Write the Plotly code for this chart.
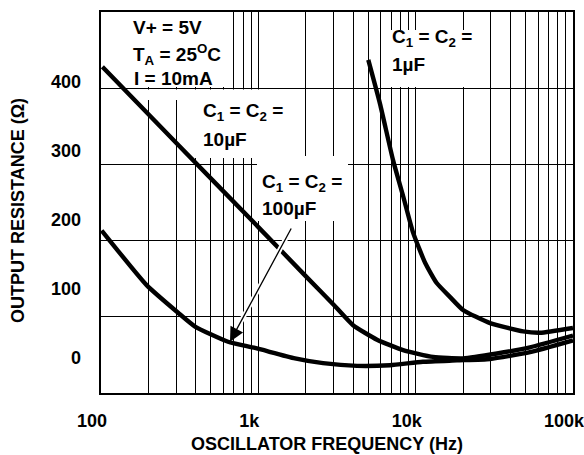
import plotly.graph_objects as go

# ---- data ----
freq_10uF = [102, 300, 1000, 2000, 3000, 4000, 5680, 8320, 12900, 20000, 32900, 53300, 100000]
res_10uF = [421, 311, 189, 118, 77, 47, 26, 11, 1, -1, 6, 15, 32]

freq_100uF = [101, 195, 309, 396, 642, 953, 1710, 2580, 4240, 6870, 11100, 18300, 29700, 53300, 100000]
res_100uF = [184, 105, 65, 45, 23, 14, -1, -8, -12, -11, -6, -4, -2, 8, 25]

freq_1uF = [5000, 5940, 7180, 8320, 9630, 11500, 13600, 16500, 20000, 29700, 48200, 61800, 100000]
res_1uF = [431, 367, 286, 234, 181, 137, 108, 88, 69, 50, 38, 36, 43]

x_tick_vals = [100, 1000, 10000, 100000]
x_tick_text = ["100", "1k", "10k", "100k"]
y_tick_vals = [0, 100, 200, 300, 400]
y_tick_text = ["0", "100", "200", "300", "400"]

FONT = "Liberation Sans, Arial, Helvetica, sans-serif"
GRID = "#000000"
GRID_W = 1.4
Y_RANGE = [-51.2, 500.4]
X_LOG_RANGE = [2, 5]

minor_vals = [m * 10 ** e for e in range(2, 5) for m in range(2, 10)]

fig = go.Figure()
line_style = dict(color="black", width=4.4, shape="spline", smoothing=0.5)
fig.add_trace(go.Scatter(x=freq_10uF, y=res_10uF, mode="lines", line=line_style,
                         hoverinfo="skip"))
fig.add_trace(go.Scatter(x=freq_100uF, y=res_100uF, mode="lines", line=line_style,
                         hoverinfo="skip"))
fig.add_trace(go.Scatter(x=freq_1uF, y=res_1uF, mode="lines", line=line_style,
                         yaxis="y2", hoverinfo="skip"))

fig.update_layout(
    width=584, height=455,
    margin=dict(l=101, r=11, t=12, b=62, autoexpand=False),
    plot_bgcolor="white", paper_bgcolor="white",
    showlegend=False,
    font=dict(family=FONT, size=18, color="black"),
    xaxis=dict(
        type="log", range=X_LOG_RANGE, automargin=False,
        tickmode="array", tickvals=x_tick_vals, ticktext=x_tick_text,
        tickfont=dict(family=FONT, size=18, color="black", weight="bold"),
        ticklabelshift=-9, ticklabelstandoff=10, ticklabeloverflow="allow",
        showgrid=True, gridcolor=GRID, gridwidth=GRID_W,
        minor=dict(tickmode="array", tickvals=minor_vals, showgrid=True,
                   gridcolor=GRID, gridwidth=GRID_W, ticks=""),
        showline=True, linecolor="black", linewidth=2, mirror=True,
        ticks="", zeroline=False,
    ),
    yaxis=dict(
        range=Y_RANGE, tickmode="linear", tick0=Y_RANGE[0], automargin=False,
        dtick=(Y_RANGE[1] - Y_RANGE[0]) / 5,
        showticklabels=False, showgrid=True, gridcolor=GRID, gridwidth=GRID_W,
        showline=True, linecolor="black", linewidth=2, mirror=True,
        ticks="", zeroline=False,
    ),
    yaxis2=dict(
        overlaying="y", side="left", range=Y_RANGE, automargin=False,
        tickmode="array", tickvals=y_tick_vals, ticktext=y_tick_text,
        tickfont=dict(family=FONT, size=18, color="black", weight="bold"),
        ticklabelstandoff=19,
        showgrid=False, showline=False, zeroline=False, ticks="",
    ),
)

# pixel helpers -> axis coordinates
def xl(px):
    return X_LOG_RANGE[0] + (px - 101) / 472.0 * (X_LOG_RANGE[1] - X_LOG_RANGE[0])

def xhz(px):
    return 10 ** xl(px)

def yv(py):
    return Y_RANGE[0] + (393 - py) / 381.0 * (Y_RANGE[1] - Y_RANGE[0])

def xd(px):
    return (px - 101) / 472.0

def yd(py):
    return (393 - py) / 381.0

# white label boxes (drawn above the grid, below the curves)
boxes = [
    (101, 232, 12, 87),
    (130, 186, 89.5, 100),
    (186, 300, 89.5, 158),
    (257, 348, 156, 221),
    (387, 487, 30, 87),
]
for (x0, x1, y0, y1) in boxes:
    fig.add_shape(type="rect", xref="x", yref="y",
                  x0=xhz(x0), x1=xhz(x1), y0=yv(y1), y1=yv(y0),
                  fillcolor="white", line=dict(width=0), layer="between")

BOLD = dict(family=FONT, size=19, color="black", weight="bold")
TITLE = dict(family=FONT, size=18, color="black", weight="bold")
labels = [
    ("V+ = 5V", 131, 27.7),
    ("T<sub>A</sub> = 25<sup>O</sup>C", 131, 54),
    ("I = 10mA", 132, 78.3),
    ("C<sub>1</sub> = C<sub>2</sub> =", 201, 112.5),
    ("10µF", 201, 139),
    ("C<sub>1</sub> = C<sub>2</sub> =", 260, 183),
    ("100µF", 260, 208),
    ("C<sub>1</sub> = C<sub>2</sub> =", 390, 38.3),
    ("1µF", 390, 64),
]
for (t, px, py) in labels:
    fig.add_annotation(text=t, xref="paper", yref="paper", x=xd(px), y=yd(py),
                       xanchor="left", yanchor="middle", showarrow=False,
                       font=BOLD, align="left")

# axis titles
fig.add_annotation(text="OSCILLATOR FREQUENCY (Hz)", xref="paper", yref="paper",
                   x=xd(327), y=yd(444), xanchor="center", yanchor="middle",
                   showarrow=False, font=TITLE)
fig.add_annotation(text="OUTPUT RESISTANCE (Ω)", xref="paper", yref="paper",
                   x=xd(18), y=yd(211), xanchor="center", yanchor="middle",
                   textangle=-90, showarrow=False, font=TITLE)

# arrow pointing at the 100uF curve (white halo + black arrow)
head = (xl(230), yv(341.7))
tail = (xl(292), yv(227))
fig.add_annotation(text="", x=head[0], y=head[1], ax=tail[0], ay=tail[1],
                   xref="x", yref="y", axref="x", ayref="y",
                   showarrow=True, arrowhead=0, arrowwidth=5, arrowcolor="white",
                   standoff=8)
fig.add_annotation(text="", x=head[0], y=head[1], ax=tail[0], ay=tail[1],
                   xref="x", yref="y", axref="x", ayref="y",
                   showarrow=True, arrowhead=2, arrowsize=2.2, arrowwidth=1.3,
                   arrowcolor="black")

fig.write_html("out.html", config={"displayModeBar": False},
               post_script="document.body.style.margin='0';")
